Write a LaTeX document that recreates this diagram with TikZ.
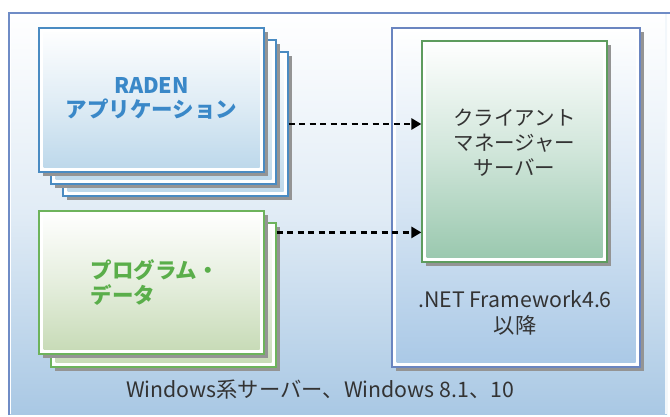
\documentclass[tikz,border=0pt]{standalone}
\usepackage{fontspec}
\setmainfont{Noto Sans CJK JP}
\usetikzlibrary{arrows.meta,shadows,calc}
\definecolor{framebl}{HTML}{6F8CC6}
\definecolor{framebot}{HTML}{A9C8E4}
\definecolor{bluebd}{HTML}{4A8BC2}
\definecolor{bluebot}{HTML}{BBD7EA}
\definecolor{greenbd}{HTML}{6DB35C}
\definecolor{greenbot}{HTML}{C6DAB5}
\definecolor{boxbd}{HTML}{6A85C0}
\definecolor{boxbot}{HTML}{A9C8E6}
\definecolor{srvbd}{HTML}{5E9C5E}
\definecolor{srvbot}{HTML}{98C7AD}
\definecolor{ttxt}{HTML}{333333}
\definecolor{bluetxt}{HTML}{3A88C8}
\definecolor{greentxt}{HTML}{5AAE4A}
\tikzset{
  card/.style 2 args={draw=#1, line width=1.2pt, fill=white, rectangle, inner sep=0pt,
    drop shadow={shadow xshift=3.5pt, shadow yshift=-3.5pt, fill=black!42, opacity=1},
    path picture={\shade[top color=white, bottom color=#2, middle color=#2!45]
      ([shift={(4.5pt,4.5pt)}]path picture bounding box.south west) rectangle
      ([shift={(-4.5pt,-4.5pt)}]path picture bounding box.north east);}},
  conn/.style={line width=2.6pt, dash pattern=on 6pt off 4.5pt,
    -{Triangle[length=10pt,width=11pt]}, black},
  lbl/.style={font=\fontsize{20.5}{25}\selectfont, color=ttxt, align=center}
}
\begin{document}
\begin{tikzpicture}[x=1pt,y=-1pt]
\useasboundingbox (0,0) rectangle (670,416);
\fill[white] (0,0) rectangle (670,416);
% outer frame
\shade[top color=white, bottom color=framebot, middle color=framebot!35] (8,12) rectangle (667,414);
\draw[white, line width=1.5pt] (10.5,414) -- (10.5,14.5) -- (667,14.5);
\draw[white!85!framebot, line width=1.2pt] (666,14) -- (666,414);
\draw[framebl, line width=1.6pt] (8.8,415) -- (8.8,12.8) -- (670,12.8);
% blue stack
\node[card={bluebd}{bluebot}, minimum width=225pt, minimum height=144pt] (raden3) at (175.5,124) {};
\node[card={bluebd}{bluebot}, minimum width=225pt, minimum height=144pt] (raden2) at (163.5,112) {};
\node[card={bluebd}{bluebot}, minimum width=225pt, minimum height=144pt] (raden) at (151.5,100) {};
\node[font=\fontsize{21.5}{23.5}\selectfont\bfseries, color=bluetxt, align=center] (radent) at (151.5,98.5) {RADEN\\アプリケーション};
% green stack
\node[card={greenbd}{greenbot}, minimum width=225pt, minimum height=144pt] (prog2) at (163.5,295) {};
\node[card={greenbd}{greenbot}, minimum width=225pt, minimum height=143pt] (prog) at (151.5,282.5) {};
\node[font=\fontsize{21.5}{25}\selectfont\bfseries, color=greentxt, align=left, anchor=west] (progt) at (87,282.5) {プログラム・\\データ};
% server box
\node[card={boxbd}{boxbot}, minimum width=248pt, minimum height=339pt] (net) at (516,197.5) {};
\node[card={srvbd}{srvbot}, minimum width=185pt, minimum height=221pt] (client) at (514.5,151.5) {};
\node[lbl] (clientt) at (514.5,143) {クライアント\\マネージャー\\サーバー};
\node[lbl, font=\fontsize{21.3}{26}\selectfont] (nett) at (515,313) {.NET Framework4.6\\以降};
\node[lbl, font=\fontsize{21.3}{24}\selectfont] (win) at (320,390) {Windows系サーバー、Windows 8.1、10};
% arrows
\draw[conn] (raden3.east) -- (client.west |- raden3.east);
\draw[conn] ($(prog2.north east)+(0,10)$) -- ($(client.west |- prog2.north east)+(0,10)$);
\end{tikzpicture}
\end{document}
